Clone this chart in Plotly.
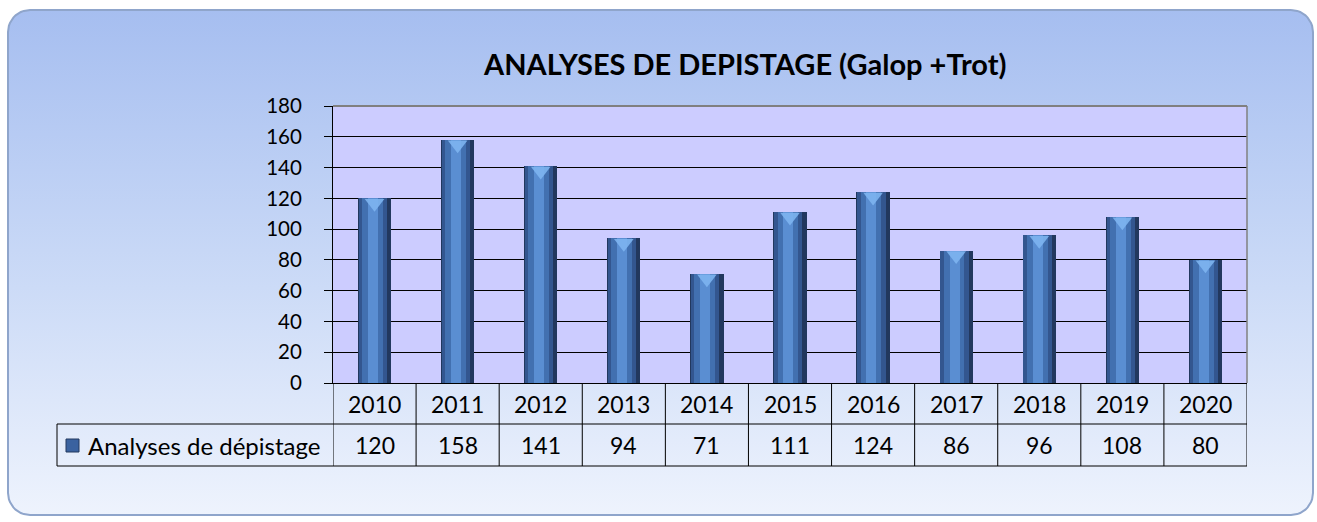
import numpy as np
import plotly.graph_objects as go

# ---------------- data ----------------
years = ["2010", "2011", "2012", "2013", "2014", "2015", "2016", "2017", "2018", "2019", "2020"]
values = [120, 158, 141, 94, 71, 111, 124, 86, 96, 108, 80]
series_name = "Analyses de dépistage"
title_text = "<b>ANALYSES DE DEPISTAGE (Galop +Trot)</b>"
y_ticks = [0, 20, 40, 60, 80, 100, 120, 140, 160, 180]

# ---------------- layout geometry (pixels) ----------------
W, H = 1317, 522
PL, PR, PT, PB = 333, 1247, 106, 383      # plot area
ROW1, ROW2 = 424, 466                     # table row bottoms
LEG_X = 57                                # legend cell left
FONT = "Lato"

def px(x):
    return x / W

def py(y):
    return 1 - y / H

fig = go.Figure()

# ---------- background rounded panel (subplot x/y in pixel space) ----------
bx0, bx1, by0, by1, r = 8, 1313, 10, 515, 22
pts = []
for cx, cy, a0, a1 in [(bx1 - r, by0 + r, -90, 0), (bx1 - r, by1 - r, 0, 90),
                       (bx0 + r, by1 - r, 90, 180), (bx0 + r, by0 + r, 180, 270)]:
    t = np.radians(np.linspace(a0, a1, 12))
    pts += [(cx + r * np.cos(tt), cy + r * np.sin(tt)) for tt in t]
pts.append(pts[0])
bgx = [p[0] for p in pts]
bgy = [H - p[1] for p in pts]
fig.add_trace(go.Scatter(
    x=bgx, y=bgy, xaxis="x", yaxis="y", mode="lines", fill="toself",
    line=dict(color="#8FA5CB", width=2),
    fillgradient=dict(type="vertical", start=H - by1, stop=H - by0,
                      colorscale=[[0, "#EEF3FD"], [0.45, "#CCDBF7"], [1, "#A6BEF0"]]),
    hoverinfo="skip", showlegend=False))

# lavender plot-area panel (drawn in the background subplot, beneath grid)
fig.add_trace(go.Scatter(
    x=[PL, PR, PR, PL, PL], y=[H - PB, H - PB, H - PT, H - PT, H - PB],
    xaxis="x", yaxis="y", mode="lines", fill="toself", fillcolor="#CCCCFF",
    line=dict(width=0), hoverinfo="skip", showlegend=False))

# ---------- bars: layered to imitate cylinders ----------
layers = [
    (0.40, -0.20, "#22385E"),
    (0.34, -0.19, "#33568F"),
    (0.25, -0.15, "#4270B0"),
    (0.12, -0.08, "#5A8ED2"),
]
for w, off, col in layers:
    fig.add_trace(go.Bar(
        x=years, y=values, xaxis="x2", yaxis="y2", width=w, offset=off,
        marker=dict(color=col, line=dict(width=0)),
        hoverinfo="skip", showlegend=False))

# top caps (light chevron)
fig.add_trace(go.Scatter(
    x=years, y=[v - 3.2 for v in values], xaxis="x2", yaxis="y2", mode="markers",
    marker=dict(symbol="triangle-down", size=17, color="rgba(125,180,240,0.9)",
                line=dict(width=0)),
    hoverinfo="skip", showlegend=False))

fig.update_layout(
    width=W, height=H,
    autosize=False,
    margin=dict(l=0, r=0, t=0, b=0, pad=0, autoexpand=False),
    paper_bgcolor="white",
    plot_bgcolor="rgba(0,0,0,0)",
    barmode="overlay",
    bargap=0,
    showlegend=False,
    font=dict(family=FONT, size=20, color="black"),
    xaxis=dict(domain=[0, 1], range=[0, W], visible=False, fixedrange=True, automargin=False),
    yaxis=dict(domain=[0, 1], range=[0, H], visible=False, fixedrange=True, automargin=False),
    xaxis2=dict(domain=[px(PL), px(PR)], anchor="y2", type="category", automargin=False,
                categoryorder="array", categoryarray=years, range=[-0.5, len(years) - 0.5],
                showticklabels=False, ticks="", showgrid=False, zeroline=False,
                showline=True, linecolor="black", linewidth=1, fixedrange=True),
    yaxis2=dict(domain=[py(PB), py(PT)], anchor="x2", range=[0, 180], automargin=False,
                tickvals=y_ticks, ticks="outside", ticklen=8, tickcolor="black",
                ticklabelstandoff=18, showgrid=True, gridcolor="black", gridwidth=1,
                zeroline=False, showline=True, linecolor="black", linewidth=1, fixedrange=True,
                tickfont=dict(family=FONT, size=20.5, color="black")),
)

shapes = []
# grey top/right borders
shapes.append(dict(type="line", xref="x2 domain", yref="y2 domain", x0=0, x1=1, y0=1, y1=1,
                   line=dict(color="#808080", width=2)))
shapes.append(dict(type="line", xref="x2 domain", yref="y2 domain", x0=1, x1=1, y0=0, y1=1,
                   line=dict(color="#808080", width=1.5)))
# data table
line_k = dict(color="black", width=1)
shapes.append(dict(type="line", xref="paper", yref="paper", x0=px(LEG_X), x1=px(PR),
                   y0=py(ROW1), y1=py(ROW1), line=line_k))
shapes.append(dict(type="line", xref="paper", yref="paper", x0=px(LEG_X), x1=px(PR),
                   y0=py(ROW2), y1=py(ROW2), line=line_k))
shapes.append(dict(type="line", xref="paper", yref="paper", x0=px(LEG_X), x1=px(LEG_X),
                   y0=py(ROW1), y1=py(ROW2), line=line_k))
for i in range(len(years) + 1):
    shapes.append(dict(type="line", xref="x2", yref="paper", x0=i - 0.5, x1=i - 0.5,
                       y0=py(PB), y1=py(ROW2), line=line_k))
# legend key
shapes.append(dict(type="rect", xref="paper", yref="paper", x0=px(66), x1=px(79),
                   y0=py(452), y1=py(439), fillcolor="#3A62A0",
                   line=dict(color="#22385E", width=1)))
fig.update_layout(shapes=shapes)

ann = []
ann.append(dict(text=title_text, xref="paper", yref="paper", x=px(744), y=py(63),
                showarrow=False, xanchor="center", yanchor="middle",
                font=dict(family=FONT, size=29, color="black")))
for i, (yr, v) in enumerate(zip(years, values)):
    ann.append(dict(text=yr, xref="x2", yref="paper", x=i, y=py(404), showarrow=False,
                    xanchor="center", yanchor="middle", font=dict(family=FONT, size=23)))
    ann.append(dict(text=str(v), xref="x2", yref="paper", x=i, y=py(445), showarrow=False,
                    xanchor="center", yanchor="middle", font=dict(family=FONT, size=23)))
ann.append(dict(text=series_name, xref="paper", yref="paper", x=px(86), y=py(445),
                showarrow=False, xanchor="left", yanchor="middle",
                font=dict(family=FONT, size=24)))
fig.update_layout(annotations=ann)

fig.write_html("out.html",
               config={"displayModeBar": False},
               post_script="document.body.style.margin='0';document.body.style.overflow='hidden';")
